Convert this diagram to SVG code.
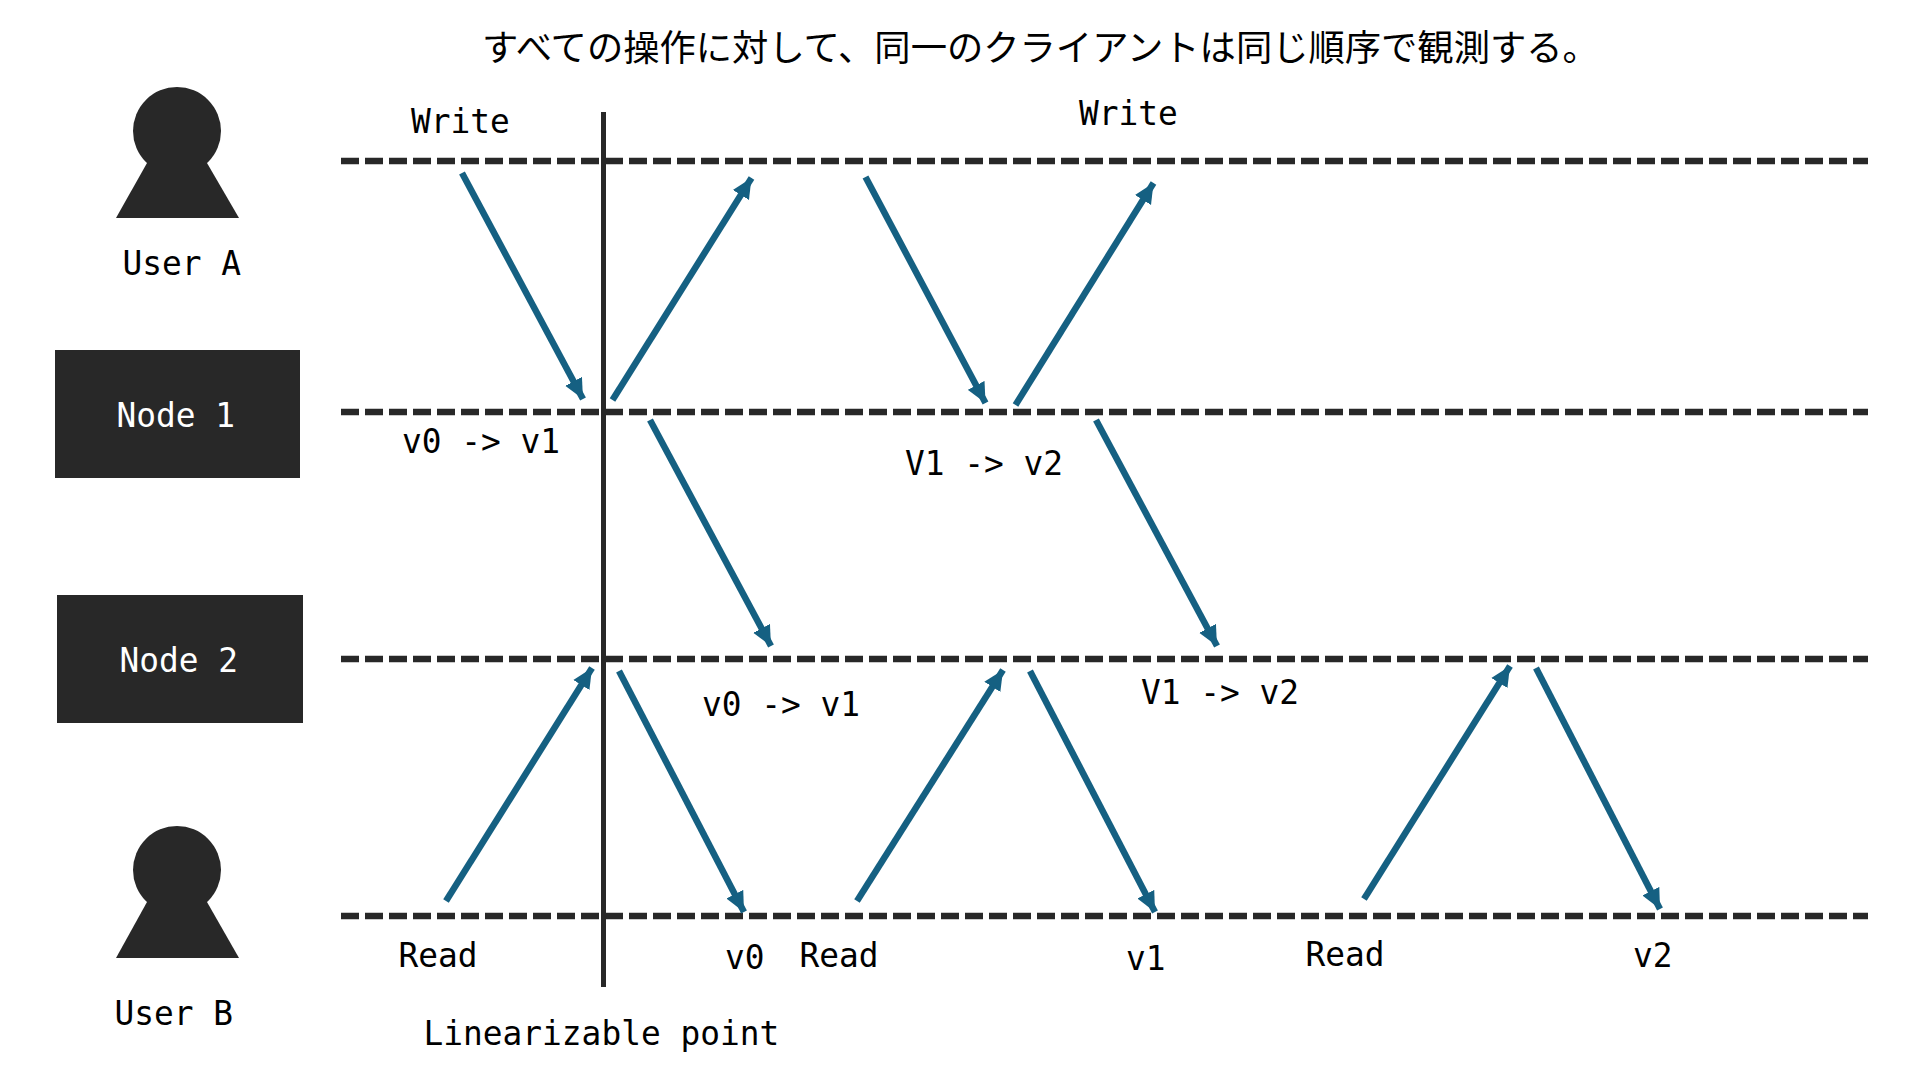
<svg xmlns="http://www.w3.org/2000/svg" width="1920" height="1080" viewBox="0 0 1920 1080">
<style>
text{font-family:"DejaVu Sans Mono","Liberation Mono",monospace;font-size:32.85px;fill:#000}
.jp{font-family:"Noto Sans CJK JP","Noto Sans CJK SC",sans-serif;font-size:36.3px}
.w{fill:#fff}
.d{stroke:#282828;stroke-width:6.5;stroke-dasharray:18 6;fill:none}
.a{stroke:#156082;stroke-width:6.5;fill:none;marker-end:url(#ah)}
.s{fill:#282828}
</style>
<defs><marker id="ah" viewBox="0 0 20 20" refX="20" refY="10" markerUnits="userSpaceOnUse" markerWidth="20" markerHeight="20" orient="auto"><path d="M0 0.500L20 10L0 19.500z" fill="#156082"/></marker></defs>
<rect width="1920" height="1080" fill="#fff"/>
<text class="jp" x="482" y="61">すべての操作に対して、同一のクライアントは同じ順序で観測する。</text>
<g id="user-a"><circle class="s" cx="177" cy="131" r="44"/><path class="s" d="M147 163H207L239 218H116z"/><text x="122.500" y="274.500">User A</text></g>
<g id="node-1"><rect class="s" x="55" y="350" width="245" height="128"/><text class="w" x="116.500" y="426.500">Node 1</text></g>
<g id="node-2"><rect class="s" x="57" y="595" width="246" height="128"/><text class="w" x="119.500" y="671.500">Node 2</text></g>
<g id="user-b"><circle class="s" cx="177" cy="870" r="44"/><path class="s" d="M147 902H207L239 958H116z"/><text x="114.500" y="1024.500">User B</text></g>
<g id="connectors">
<path class="d" d="M341 161H1868"/><path class="d" d="M341 412H1868"/><path class="d" d="M341 659H1868"/><path class="d" d="M341 916H1868"/>
<path d="M603.500 112V987" stroke="#282828" stroke-width="5" fill="none"/>
<path class="a" d="M462 173L583 399"/><path class="a" d="M612.500 400L751.500 178"/>
<path class="a" d="M865.500 177L985.500 403"/><path class="a" d="M1015.500 405L1153.500 183"/>
<path class="a" d="M650 420L771 646"/><path class="a" d="M1096 420L1217 646"/>
<path class="a" d="M446 901L592 668"/><path class="a" d="M619 671L744 912"/>
<path class="a" d="M857 901L1003 670"/><path class="a" d="M1030 671L1155 912"/>
<path class="a" d="M1364 899L1510 666"/><path class="a" d="M1536 668L1660 909"/>
</g>
<text x="411" y="133">Write</text><text x="1079" y="124.500">Write</text>
<text x="402" y="452.500">v0 -&gt; v1</text><text x="905" y="474.500">V1 -&gt; v2</text>
<text x="702" y="715.500">v0 -&gt; v1</text><text x="1141" y="703.500">V1 -&gt; v2</text>
<text x="398.500" y="966.500">Read</text><text x="725" y="969">v0</text><text x="799.500" y="967">Read</text><text x="1126" y="970">v1</text><text x="1305.500" y="965.500">Read</text><text x="1633" y="967">v2</text>
<text x="423.500" y="1044.500">Linearizable point</text>
</svg>
